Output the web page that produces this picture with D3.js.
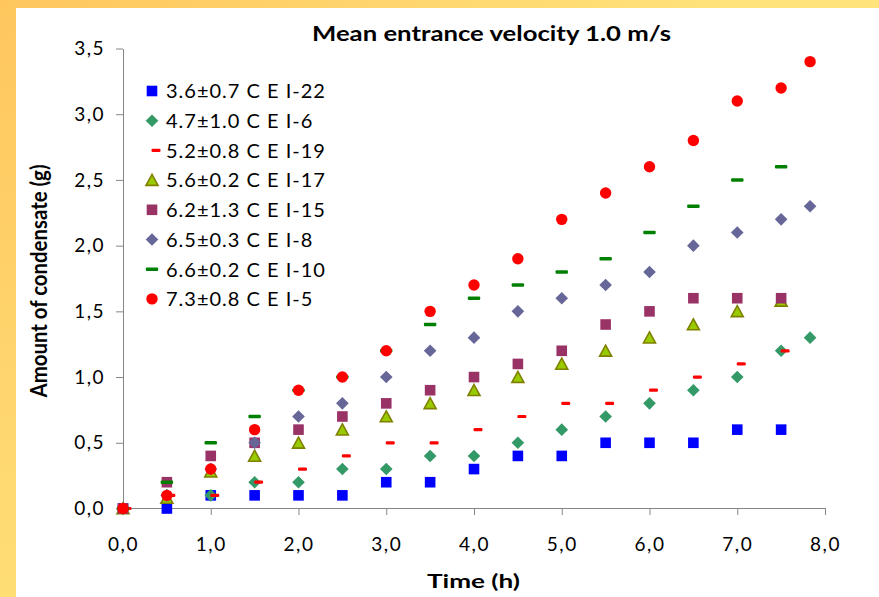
<!DOCTYPE html>
<html>
<head>
<meta charset="utf-8">
<script src="https://cdn.jsdelivr.net/npm/d3@7"></script>
<style>
  html, body { margin: 0; padding: 0; background: #fff; }
  svg { display: block; }
  text { font-family: Lato, "Open Sans", sans-serif; }
</style>
</head>
<body>
<svg id="chart" width="879" height="597"></svg>
<script>
// ---- data ----
const timesA = [0, 0.5, 1, 1.5, 2, 2.5, 3, 3.5, 4, 4.5, 5, 5.5, 6, 6.5, 7, 7.5];
const timesB = [0, 0.5, 1, 1.5, 2, 2.5, 3, 3.5, 4, 4.5, 5, 5.5, 6, 6.5, 7, 7.5, 7.83];

const cei22 = [0, 0, 0.1, 0.1, 0.1, 0.1, 0.2, 0.2, 0.3, 0.4, 0.4, 0.5, 0.5, 0.5, 0.6, 0.6];
const cei6  = [0, 0.1, 0.1, 0.2, 0.2, 0.3, 0.3, 0.4, 0.4, 0.5, 0.6, 0.7, 0.8, 0.9, 1.0, 1.2, 1.3];
const cei19 = [0, 0.1, 0.1, 0.2, 0.3, 0.4, 0.5, 0.5, 0.6, 0.7, 0.8, 0.8, 0.9, 1.0, 1.1, 1.2];
const cei17 = [0, 0.08, 0.28, 0.4, 0.5, 0.6, 0.7, 0.8, 0.9, 1.0, 1.1, 1.2, 1.3, 1.4, 1.5, 1.58];
const cei15 = [0, 0.2, 0.4, 0.5, 0.6, 0.7, 0.8, 0.9, 1.0, 1.1, 1.2, 1.4, 1.5, 1.6, 1.6, 1.6];
const cei8  = [0, 0.1, 0.3, 0.5, 0.7, 0.8, 1.0, 1.2, 1.3, 1.5, 1.6, 1.7, 1.8, 2.0, 2.1, 2.2, 2.3];
const cei10 = [0, 0.2, 0.5, 0.7, 0.9, 1.0, 1.2, 1.4, 1.6, 1.7, 1.8, 1.9, 2.1, 2.3, 2.5, 2.6];
const cei5  = [0, 0.1, 0.3, 0.6, 0.9, 1.0, 1.2, 1.5, 1.7, 1.9, 2.2, 2.4, 2.6, 2.8, 3.1, 3.2, 3.4];

const seriesNames = [
  "3.6\u00B10.7 C E I-22",
  "4.7\u00B11.0 C E I-6",
  "5.2\u00B10.8 C E I-19",
  "5.6\u00B10.2 C E I-17",
  "6.2\u00B11.3 C E I-15",
  "6.5\u00B10.3 C E I-8",
  "6.6\u00B10.2 C E I-10",
  "7.3\u00B10.8 C E I-5"
];
const xTicks = [0, 1, 2, 3, 4, 5, 6, 7, 8];
const yTicks = [0, 0.5, 1, 1.5, 2, 2.5, 3, 3.5];
const titleText = "Mean entrance velocity 1.0 m/s";
const xTitle = "Time (h)";
const yTitle = "Amount of condensate (g)";

// ---- styles ----
const series = [
  { name: seriesNames[0], t: timesA, v: cei22, shape: "square",   fill: "#0000FF" },
  { name: seriesNames[1], t: timesB, v: cei6,  shape: "diamond",  fill: "#339966" },
  { name: seriesNames[2], t: timesA, v: cei19, shape: "dashR",    fill: "#FF0000" },
  { name: seriesNames[3], t: timesA, v: cei17, shape: "triangle", fill: "#99CC00", stroke: "#808000" },
  { name: seriesNames[4], t: timesA, v: cei15, shape: "square",   fill: "#993366" },
  { name: seriesNames[5], t: timesB, v: cei8,  shape: "diamond",  fill: "#666699" },
  { name: seriesNames[6], t: timesA, v: cei10, shape: "dashG",    fill: "#008000" },
  { name: seriesNames[7], t: timesB, v: cei5,  shape: "circle",   fill: "#FF0000" }
];

const svg = d3.select("#chart");
const W = 879, H = 597;

// background frame gradient
const defs = svg.append("defs");
const grad = defs.append("radialGradient").attr("id", "bg")
  .attr("gradientUnits", "userSpaceOnUse").attr("cx", 0).attr("cy", 0).attr("r", 760);
grad.append("stop").attr("offset", "0%").attr("stop-color", "#FFC65E");
grad.append("stop").attr("offset", "100%").attr("stop-color", "#FFE47C");
svg.append("rect").attr("width", W).attr("height", H).attr("fill", "url(#bg)");
svg.append("rect").attr("x", 16).attr("y", 8).attr("width", W - 16).attr("height", H - 8).attr("fill", "#fff");

const x = d3.scaleLinear().domain([0, 8]).range([123, 825]);
const y = d3.scaleLinear().domain([0, 3.5]).range([508.5, 48.5]);
const fmt = d => d3.format(".1f")(d).replace(".", ",");

// axes
const gx = svg.append("g").attr("transform", "translate(0,508)")
  .call(d3.axisBottom(x).tickValues(xTicks).tickFormat(fmt).tickSize(7).tickSizeOuter(0).tickPadding(23));
const gy = svg.append("g").attr("transform", "translate(123,0)")
  .call(d3.axisLeft(y).tickValues(yTicks).tickFormat(fmt).tickSize(7).tickSizeOuter(0).tickPadding(11));
[gx, gy].forEach(g => {
  g.selectAll("path.domain, line").attr("stroke", "#868686").attr("stroke-width", 1);
  g.selectAll("text").attr("fill", "#000").style("font-family", "Lato, 'Open Sans', sans-serif")
    .style("font-size", "19px").style("letter-spacing", "1.5px");
});

// marker drawing
function marker(sel, shape, fill, stroke) {
  let el;
  switch (shape) {
    case "square":
      el = sel.append("rect").attr("x", -5.3).attr("y", -5.3).attr("width", 10.6).attr("height", 10.6);
      break;
    case "diamond":
      el = sel.append("path").attr("d", "M0,-6.3L6.3,0L0,6.3L-6.3,0Z");
      break;
    case "triangle":
      el = sel.append("path").attr("d", "M0,-5.7L6,5.3L-6,5.3Z")
        .attr("stroke", stroke).attr("stroke-width", 1.6).attr("stroke-linejoin", "miter");
      break;
    case "dashR":
      el = sel.append("rect").attr("x", -0.5).attr("y", -1.6).attr("width", 9).attr("height", 3.2).attr("rx", 1.2);
      break;
    case "dashG":
      el = sel.append("rect").attr("x", -6.2).attr("y", -1.7).attr("width", 12.4).attr("height", 3.4).attr("rx", 1);
      break;
    case "circle":
      el = sel.append("circle").attr("r", 5.7);
      break;
  }
  el.attr("fill", fill);
}

// points
series.forEach(s => {
  const pts = s.v.map((v, i) => ({ t: s.t[i], v }));
  svg.append("g").selectAll("g").data(pts).join("g")
    .attr("transform", d => `translate(${x(d.t)},${y(d.v)})`)
    .each(function () { marker(d3.select(this), s.shape, s.fill, s.stroke); });
});

// legend
const leg = svg.append("g");
series.forEach((s, i) => {
  const cy = 91 + i * 29.7;
  const g = leg.append("g").attr("transform", `translate(152,${cy})`);
  marker(g, s.shape, s.fill, s.stroke);
  leg.append("text").attr("x", 166).attr("y", cy + 7.3)
    .attr("fill", "#000").style("font-size", "20px").style("letter-spacing", "1.0px")
    .text(s.name);
});

// titles
svg.append("text").attr("x", 491.5).attr("y", 41).attr("text-anchor", "middle")
  .attr("textLength", 359).attr("lengthAdjust", "spacingAndGlyphs")
  .style("font-size", "20.5px").style("font-weight", "bold").attr("fill", "#000")
  .text(titleText);
svg.append("text").attr("x", 473.5).attr("y", 588).attr("text-anchor", "middle")
  .attr("textLength", 93).attr("lengthAdjust", "spacingAndGlyphs")
  .style("font-size", "19.5px").style("font-weight", "bold").attr("fill", "#000")
  .text(xTitle);
svg.append("text").attr("transform", "translate(47,281) rotate(-90)").attr("text-anchor", "middle")
  .attr("textLength", 233).attr("lengthAdjust", "spacingAndGlyphs")
  .style("font-size", "22px").style("font-weight", "bold").attr("fill", "#000")
  .text(yTitle);
</script>
</body>
</html>
